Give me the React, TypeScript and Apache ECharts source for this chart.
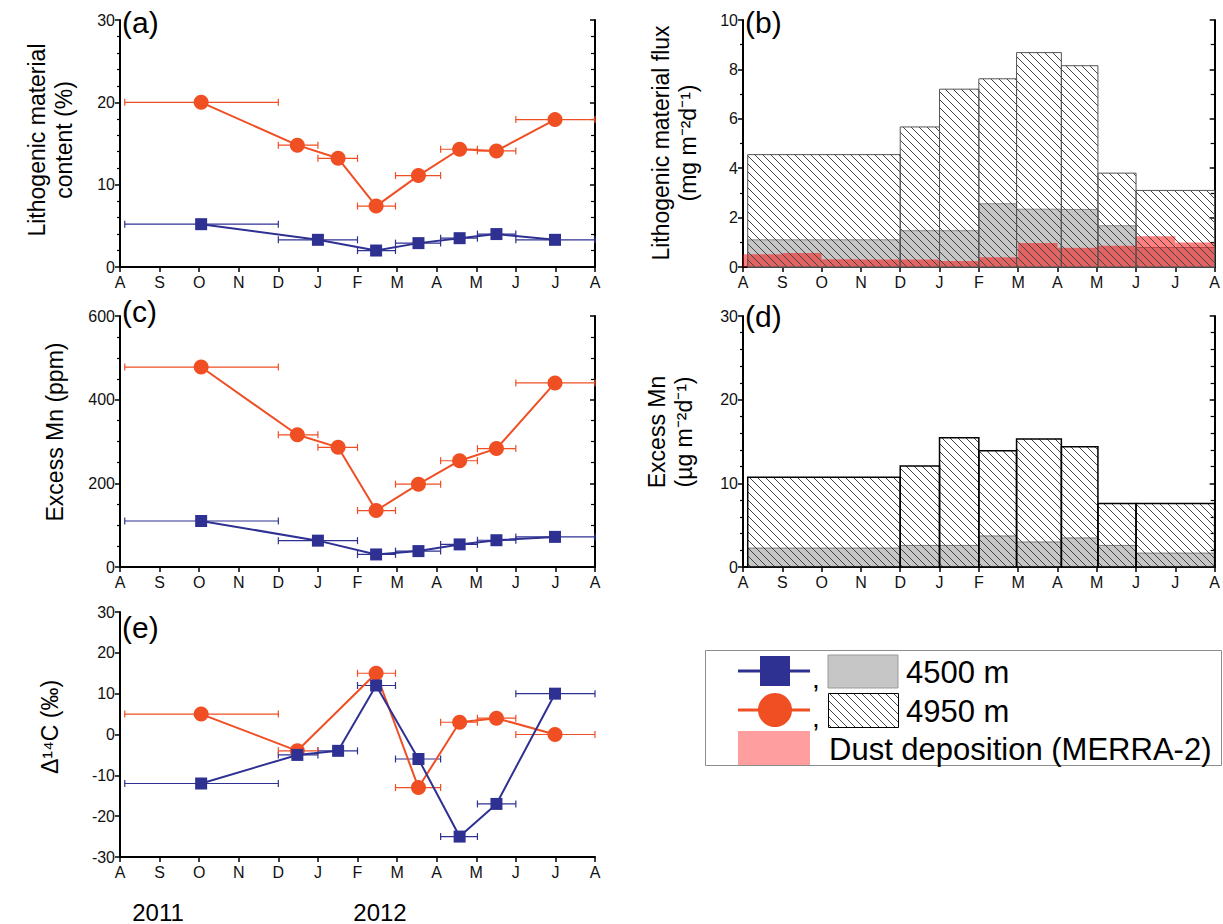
import React, { useEffect, useRef } from "react";
import * as echarts from "echarts";

// ---------- data ----------
const monthLabels = ["A", "S", "O", "N", "D", "J", "F", "M", "A", "M", "J", "J", "A"];

// sampling periods (months since 1 Aug 2011) and mid points
const p4950Start = [0.12, 4.0, 5.0, 6.0, 6.96, 8.1, 9.03, 10.0];
const p4950End = [4.0, 5.0, 6.0, 6.96, 8.1, 9.03, 10.0, 12.0];
const x4950 = [2.05, 4.48, 5.51, 6.47, 7.54, 8.58, 9.51, 10.99];

const p4500Start = [0.12, 4.0, 6.0, 6.96, 8.1, 9.03, 10.0];
const p4500End = [4.0, 6.0, 6.96, 8.1, 9.03, 10.0, 12.0];
const x4500 = [2.05, 5.0, 6.47, 7.54, 8.58, 9.51, 10.99];

// (a) lithogenic content (%)
const lithPct4950 = [20.0, 14.8, 13.2, 7.4, 11.1, 14.3, 14.1, 17.9];
const lithPct4500 = [5.2, 3.3, 2.0, 2.9, 3.5, 4.0, 3.3];

// (b) lithogenic flux (mg m-2 d-1)
const lithFlux4950 = [4.55, 5.67, 7.2, 7.62, 8.68, 8.15, 3.8, 3.1];
const lithFlux4500 = [1.1, 1.47, 2.56, 2.34, 2.33, 1.67, 0.79];
const dustMonthStart = [0, 1, 2, 3, 4, 5, 6, 7, 8, 9, 10, 11];
const dustDeposition = [0.52, 0.57, 0.31, 0.3, 0.3, 0.24, 0.39, 0.97, 0.78, 0.86, 1.25, 0.99];

// (c) excess Mn (ppm)
const mnPpm4950 = [478, 316, 286, 135, 198, 254, 283, 440];
const mnPpm4500 = [110, 63, 30, 38, 54, 64, 72];

// (d) excess Mn flux (ug m-2 d-1)
const mnFlux4950 = [10.74, 12.07, 15.46, 13.89, 15.3, 14.37, 7.6, 7.6];
const mnFlux4500 = [2.26, 2.58, 3.71, 2.99, 3.47, 2.58, 1.66];

// (e) Δ14C (‰)
const c14Start4950 = [0.12, 4.0, 6.0, 6.96, 8.1, 9.03, 10.0];
const c14End4950 = [4.0, 5.0, 6.96, 8.1, 9.03, 10.0, 12.0];
const c14X4950 = [2.05, 4.48, 6.47, 7.54, 8.58, 9.51, 10.99];
const c14Val4950 = [5, -4, 15, -13, 3, 4, 0];
const c14Start4500 = [0.12, 4.0, 5.0, 6.0, 6.96, 8.1, 9.03, 10.0];
const c14End4500 = [4.0, 5.0, 6.0, 6.96, 8.1, 9.03, 10.0, 12.0];
const c14X4500 = [2.05, 4.48, 5.51, 6.47, 7.54, 8.58, 9.51, 10.99];
const c14Val4500 = [-12, -5, -4, 12, -6, -25, -17, 10];

const yearLabels = ["2011", "2012"];

// ---------- styles ----------
const RED = "#f04e23";
const BLUE = "#2e3192";
const GRAY = "#c6c6c6";
const DUST = "rgba(255,0,0,0.5)";
const TICK_FONT = "'Liberation Sans Narrow', 'Liberation Sans', Arial, sans-serif";
const FONT = "'Liberation Sans', Arial, sans-serif";

function makeHatch() {
  const c = document.createElement("canvas");
  c.width = 8;
  c.height = 8;
  const ctx = c.getContext("2d")!;
  ctx.strokeStyle = "#444";
  ctx.lineWidth = 1;
  ctx.beginPath();
  ctx.moveTo(-2, -2);
  ctx.lineTo(10, 10);
  ctx.moveTo(-2, 6);
  ctx.lineTo(2, 10);
  ctx.moveTo(6, -2);
  ctx.lineTo(10, 2);
  ctx.stroke();
  return c;
}

const zip3 = (a: number[], b: number[], c: number[]) => a.map((v, i) => [v, b[i], c[i]]);
const zip2 = (a: number[], b: number[]) => a.map((v, i) => [v, b[i]]);

export default function App() {
  const ref = useRef<HTMLDivElement>(null);
  useEffect(() => {
    const chart = echarts.init(ref.current!, null, { renderer: "svg" });
    const hatchCanvas = makeHatch();
    const hatch: any = { image: hatchCanvas, repeat: "repeat", imageWidth: 8, imageHeight: 8 };

    const grids = [
      { left: 120, top: 20, width: 475, height: 247 },
      { left: 743, top: 20, width: 474, height: 247 },
      { left: 120, top: 316, width: 475, height: 251 },
      { left: 743, top: 316, width: 474, height: 251 },
      { left: 120, top: 612, width: 475, height: 245 },
    ];

    const xAxis = grids.map((_, i) => ({
      type: "value",
      gridIndex: i,
      min: 0,
      max: 12,
      interval: 1,
      axisLine: { show: true, onZero: false, lineStyle: { color: "#000", width: 2 } },
      axisTick: { show: true, length: 5, lineStyle: { color: "#000", width: 1.5 } },
      splitLine: { show: false },
      axisLabel: {
        formatter: (v: number) => monthLabels[Math.round(v)] ?? "",
        fontSize: 16,
        fontFamily: TICK_FONT,
        color: "#111",
        margin: 7,
      },
    }));

    const yRanges = [
      { min: 0, max: 30, interval: 10, minor: 5 },
      { min: 0, max: 10, interval: 2, minor: 2 },
      { min: 0, max: 600, interval: 200, minor: 4 },
      { min: 0, max: 30, interval: 10, minor: 5 },
      { min: -30, max: 30, interval: 10, minor: 1 },
    ];
    const leftY = yRanges.map((r, i) => ({
      type: "value",
      gridIndex: i,
      position: "left",
      min: r.min,
      max: r.max,
      interval: r.interval,
      axisLine: { show: true, onZero: false, lineStyle: { color: "#000", width: 2 } },
      axisTick: { show: true, length: 5, lineStyle: { color: "#000", width: 1.5 } },
      minorTick: { show: r.minor > 1, splitNumber: r.minor, length: 3, lineStyle: { color: "#000", width: 1.2 } },
      splitLine: { show: false },
      axisLabel: { fontSize: 16, fontFamily: TICK_FONT, color: "#111", margin: 5 },
    }));
    const rightY = yRanges.slice(0, 4).map((r, i) => ({
      type: "value",
      gridIndex: i,
      position: "right",
      min: r.min,
      max: r.max,
      interval: r.interval,
      axisLine: { show: true, onZero: false, lineStyle: { color: "#000", width: 2 } },
      axisTick: { show: true, inside: true, length: 5, lineStyle: { color: "#000", width: 1.5 } },
      minorTick: { show: true, splitNumber: r.minor, length: 4, lineStyle: { color: "#000", width: 1.2 } },
      splitLine: { show: false },
      axisLabel: { show: false },
    }));

    const errBar = (color: string) => (params: any, api: any) => {
      const a = api.coord([api.value(0), api.value(2)]);
      const b = api.coord([api.value(1), api.value(2)]);
      const h = 3.5;
      const st = { stroke: color, lineWidth: 1.2 };
      return {
        type: "group",
        children: [
          { type: "line", shape: { x1: a[0], y1: a[1], x2: b[0], y2: b[1] }, style: st },
          { type: "line", shape: { x1: a[0], y1: a[1] - h, x2: a[0], y2: a[1] + h }, style: st },
          { type: "line", shape: { x1: b[0], y1: b[1] - h, x2: b[0], y2: b[1] + h }, style: st },
        ],
      };
    };
    const rectItem = (style: any) => (params: any, api: any) => {
      const p0 = api.coord([api.value(0), api.value(2)]);
      const p1 = api.coord([api.value(1), 0]);
      return {
        type: "rect",
        shape: { x: p0[0], y: p0[1], width: p1[0] - p0[0], height: p1[1] - p0[1] },
        style,
      };
    };

    const errSeries = (grid: number, color: string, s: number[], e: number[], v: number[], z: number) => ({
      type: "custom",
      xAxisIndex: grid,
      yAxisIndex: grid,
      renderItem: errBar(color),
      encode: { x: [0, 1], y: 2 },
      data: zip3(s, e, v),
      z,
      silent: true,
    });
    const lineSeries = (grid: number, color: string, xs: number[], v: number[], symbol: string, size: number, z: number) => ({
      type: "line",
      xAxisIndex: grid,
      yAxisIndex: grid,
      data: zip2(xs, v),
      symbol,
      symbolSize: size,
      showAllSymbol: true,
      itemStyle: { color, opacity: 1 },
      lineStyle: { color, width: 2 },
      z,
      silent: true,
    });
    const rectSeries = (grid: number, s: number[], e: number[], v: number[], style: any, z: number) => ({
      type: "custom",
      xAxisIndex: grid,
      yAxisIndex: grid,
      renderItem: rectItem(style),
      encode: { x: [0, 1], y: 2 },
      data: zip3(s, e, v),
      z,
      silent: true,
    });

    const dustEnd = dustMonthStart.map((m) => m + 1);

    const series: any[] = [
      // (a)
      errSeries(0, BLUE, p4500Start, p4500End, lithPct4500, 2),
      errSeries(0, RED, p4950Start, p4950End, lithPct4950, 2),
      lineSeries(0, BLUE, x4500, lithPct4500, "rect", 12, 3),
      lineSeries(0, RED, x4950, lithPct4950, "circle", 15, 4),
      // (c)
      errSeries(2, BLUE, p4500Start, p4500End, mnPpm4500, 2),
      errSeries(2, RED, p4950Start, p4950End, mnPpm4950, 2),
      lineSeries(2, BLUE, x4500, mnPpm4500, "rect", 12, 3),
      lineSeries(2, RED, x4950, mnPpm4950, "circle", 15, 4),
      // (e)
      errSeries(4, BLUE, c14Start4500, c14End4500, c14Val4500, 2),
      errSeries(4, RED, c14Start4950, c14End4950, c14Val4950, 2),
      lineSeries(4, RED, c14X4950, c14Val4950, "circle", 15, 3),
      lineSeries(4, BLUE, c14X4500, c14Val4500, "rect", 12, 4),
      // (b)
      rectSeries(1, p4500Start, p4500End, lithFlux4500, { fill: GRAY, stroke: "#8a8a8a", lineWidth: 1 }, 1),
      rectSeries(1, dustMonthStart, dustEnd, dustDeposition, { fill: DUST }, 2),
      rectSeries(1, p4950Start, p4950End, lithFlux4950, { fill: hatch, stroke: "#555", lineWidth: 1 }, 3),
      // (d)
      rectSeries(3, p4500Start, p4500End, mnFlux4500, { fill: GRAY, stroke: "#7a7a7a", lineWidth: 1 }, 1),
      rectSeries(3, p4950Start, p4950End, mnFlux4950, { fill: hatch, stroke: "#000", lineWidth: 1.5 }, 3),
    ];

    const txt = (text: string, x: number, y: number, size: number, extra: any = {}) => ({
      type: "text",
      x,
      y,
      z: 100,
      style: {
        text,
        fontSize: size,
        fontFamily: FONT,
        fill: "#000",
        align: "left",
        verticalAlign: "middle",
        textAlign: "left",
        textVerticalAlign: "middle",
        ...extra,
      },
    });
    const vtxt = (text: string, x: number, y: number, size: number) => ({
      type: "text",
      x,
      y,
      rotation: Math.PI / 2,
      z: 100,
      style: {
        text,
        fontSize: size,
        fontFamily: FONT,
        fill: "#000",
        align: "center",
        verticalAlign: "middle",
        textAlign: "center",
        textVerticalAlign: "middle",
        lineHeight: 27,
      },
    });

    const graphic: any[] = [
      txt("(a)", 122, 22, 30),
      txt("(b)", 745, 22, 30),
      txt("(c)", 122, 311, 30),
      txt("(d)", 745, 316, 30),
      txt("(e)", 122, 627, 30),
      vtxt("Lithogenic material\ncontent (%)", 50, 140, 23),
      vtxt("Lithogenic material flux\n(mg m\u207B\u00B2d\u207B\u00B9)", 674, 143, 23),
      vtxt("Excess Mn (ppm)", 55, 432, 23),
      vtxt("Excess Mn\n(\u00B5g m\u207B\u00B2d\u207B\u00B9)", 670, 432, 23),
      vtxt("\u0394\u00B9\u2074C (\u2030)", 50, 727, 23),
      txt(yearLabels[0], 158, 912, 24, { align: "center", textAlign: "center" }),
      txt(yearLabels[1], 380, 912, 24, { align: "center", textAlign: "center" }),
      // legend
      {
        type: "rect",
        shape: { x: 705.5, y: 650.5, width: 516, height: 115 },
        style: { fill: "#fff", stroke: "#8c8c8c", lineWidth: 1 },
        z: 90,
      },
      { type: "line", shape: { x1: 738, y1: 671, x2: 810, y2: 671 }, style: { stroke: BLUE, lineWidth: 3 }, z: 91 },
      { type: "rect", shape: { x: 760, y: 656, width: 30, height: 30 }, style: { fill: BLUE }, z: 92 },
      txt(",", 812, 678, 28),
      { type: "rect", shape: { x: 828, y: 655, width: 70, height: 33 }, style: { fill: GRAY, stroke: "#999", lineWidth: 1 }, z: 91 },
      txt("4500 m", 906, 672, 31),
      { type: "line", shape: { x1: 738, y1: 710, x2: 810, y2: 710 }, style: { stroke: RED, lineWidth: 3 }, z: 91 },
      { type: "circle", shape: { cx: 775, cy: 710, r: 17 }, style: { fill: RED }, z: 92 },
      txt(",", 812, 717, 28),
      { type: "rect", shape: { x: 828.5, y: 693.5, width: 70, height: 34 }, style: { fill: hatch, stroke: "#000", lineWidth: 1 }, z: 91 },
      txt("4950 m", 906, 711, 31),
      { type: "rect", shape: { x: 738, y: 731, width: 72, height: 34 }, style: { fill: "rgba(255,0,0,0.38)" }, z: 91 },
      txt("Dust deposition (MERRA-2)", 829, 749, 31),
    ];

    chart.setOption({
      animation: false,
      backgroundColor: "#fff",
      grid: grids,
      xAxis,
      yAxis: [...leftY, ...rightY],
      series,
      graphic,
    });
    return () => chart.dispose();
  }, []);
  return <div ref={ref} style={{ position: "absolute", left: 0, top: 0, width: 1223, height: 924 }} />;
}
